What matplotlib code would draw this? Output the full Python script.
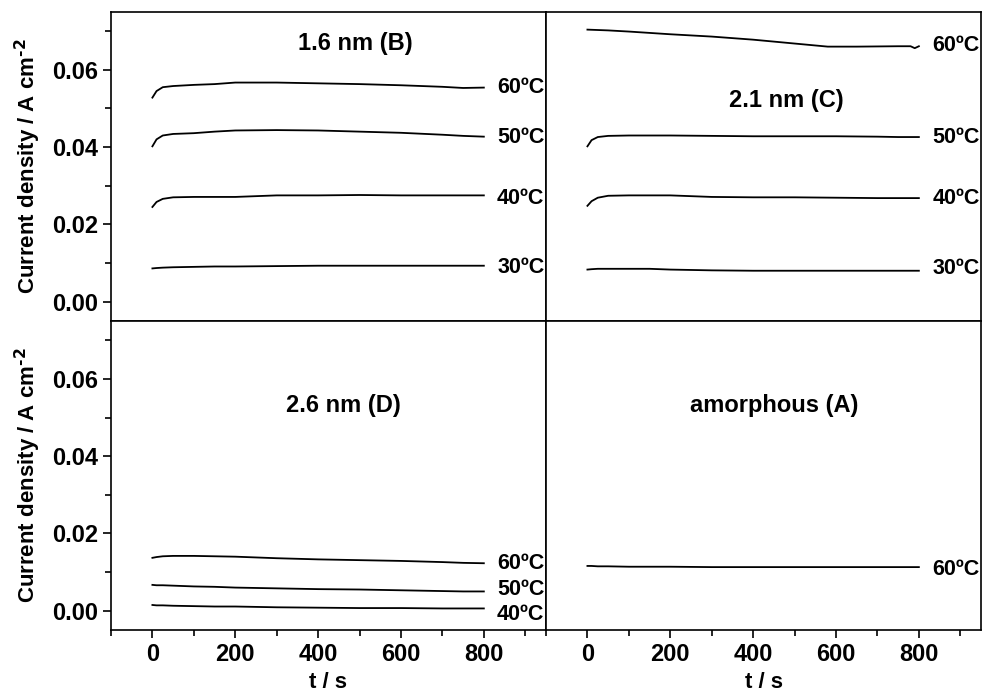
import matplotlib.pyplot as plt

plt.rcParams['font.family'] = ['Liberation Sans', 'DejaVu Sans']
plt.rcParams['font.weight'] = 'bold'
plt.rcParams['mathtext.default'] = 'bf'

# time axis points (s)
t_b = [0, 10, 25, 50, 100, 150, 200, 300, 400, 500, 600, 700, 750, 800]

# 1.6 nm (B)
b60 = [0.0528, 0.0545, 0.0555, 0.0558, 0.0561, 0.0563, 0.0567, 0.0567, 0.0565, 0.0563, 0.0560, 0.0556, 0.0553, 0.0554]
b50 = [0.0402, 0.0420, 0.0430, 0.0434, 0.0436, 0.0440, 0.0443, 0.0444, 0.0443, 0.0440, 0.0437, 0.0432, 0.0429, 0.0427]
b40 = [0.0245, 0.0258, 0.0266, 0.0270, 0.0271, 0.0271, 0.0271, 0.0275, 0.0275, 0.0276, 0.0275, 0.0275, 0.0275, 0.0275]
b30 = [0.0086, 0.0087, 0.0088, 0.0089, 0.0090, 0.0091, 0.0091, 0.0092, 0.0093, 0.0093, 0.0093, 0.0093, 0.0093, 0.0093]

# 2.1 nm (C)
t_c60 = [0, 50, 100, 200, 300, 400, 500, 580, 650, 750, 780, 790, 800]
c60 = [0.0704, 0.0702, 0.0699, 0.0692, 0.0686, 0.0678, 0.0668, 0.0660, 0.0660, 0.0661, 0.0661, 0.0656, 0.0661]
c50 = [0.0402, 0.0418, 0.0426, 0.0429, 0.0430, 0.0430, 0.0430, 0.0429, 0.0428, 0.0428, 0.0428, 0.0427, 0.0426, 0.0426]
c40 = [0.0248, 0.0260, 0.0269, 0.0274, 0.0275, 0.0275, 0.0275, 0.0271, 0.0270, 0.0270, 0.0269, 0.0268, 0.0268, 0.0268]
c30 = [0.0083, 0.0084, 0.0085, 0.0085, 0.0085, 0.0085, 0.0083, 0.0081, 0.0080, 0.0080, 0.0080, 0.0080, 0.0080, 0.0080]

# 2.6 nm (D)
d60 = [0.0137, 0.0139, 0.0141, 0.0142, 0.0142, 0.0141, 0.0140, 0.0136, 0.0133, 0.0131, 0.0129, 0.0126, 0.0124, 0.0123]
d50 = [0.0067, 0.0066, 0.0066, 0.0065, 0.0063, 0.0062, 0.0060, 0.0058, 0.0056, 0.0055, 0.0053, 0.0051, 0.0050, 0.0050]
d40 = [0.0015, 0.0014, 0.0014, 0.0013, 0.0012, 0.0011, 0.0011, 0.0009, 0.0008, 0.0007, 0.0007, 0.0006, 0.0006, 0.0006]

# amorphous (A)
a60 = [0.0116, 0.0116, 0.0115, 0.0115, 0.0114, 0.0114, 0.0114, 0.0113, 0.0113, 0.0113, 0.0113, 0.0113, 0.0113, 0.0113]

panels = [
    ("1.6 nm (B)", (490, 0.0668),
     [(t_b, b60, "60ºC", 0.0553), (t_b, b50, "50ºC", 0.0426),
      (t_b, b40, "40ºC", 0.0268), (t_b, b30, "30ºC", 0.0088)]),
    ("2.1 nm (C)", (480, 0.0520),
     [(t_c60, c60, "60ºC", 0.0662), (t_b, c50, "50ºC", 0.0426),
      (t_b, c40, "40ºC", 0.0268), (t_b, c30, "30ºC", 0.0086)]),
    ("2.6 nm (D)", (460, 0.0530),
     [(t_b, d60, "60ºC", 0.0123), (t_b, d50, "50ºC", 0.0055),
      (t_b, d40, "40ºC", -0.0010)]),
    ("amorphous (A)", (450, 0.0530),
     [(t_b, a60, "60ºC", 0.0108)]),
]

fig, axes = plt.subplots(2, 2, figsize=(9.82, 6.97), dpi=100, sharex=True, sharey=True)
fig.subplots_adjust(left=0.113, right=0.999, top=0.983, bottom=0.096, wspace=0, hspace=0)

for ax, (title, tpos, curves) in zip(axes.flat, panels):
    for t, y, lab, ly in curves:
        ax.plot(t, y, color='black', lw=1.3)
        ax.text(832, ly, lab, fontsize=15.5, fontweight='bold', ha='left', va='center')
    ax.text(tpos[0], tpos[1], title, fontsize=17, fontweight='bold', ha='center', va='center')
    for s in ax.spines.values():
        s.set_linewidth(1.2)

ax0 = axes[0, 0]
ax0.set_xlim(-100, 950)
ax0.set_ylim(-0.005, 0.075)
ax0.set_xticks([0, 200, 400, 600, 800])
ax0.set_xticks([-100, 100, 300, 500, 700, 900], minor=True)
ax0.set_yticks([0.00, 0.02, 0.04, 0.06])
ax0.set_yticks([0.01, 0.03, 0.05, 0.07], minor=True)
ax0.yaxis.set_major_formatter(plt.FormatStrFormatter('%.2f'))

for i in range(2):
    for j in range(2):
        ax = axes[i, j]
        ax.tick_params(which='both', direction='out', top=False, right=False,
                       left=(j == 0), bottom=(i == 1),
                       labelleft=(j == 0), labelbottom=(i == 1),
                       labelsize=17, width=1.2)
        ax.tick_params(which='major', length=6)
        ax.tick_params(which='minor', length=4)
        for lbl in ax.get_xticklabels() + ax.get_yticklabels():
            lbl.set_fontweight('bold')

for i in range(2):
    axes[i, 0].set_ylabel("Current density / A cm$^{\\text{-2}}$", fontsize=16, fontweight='bold', labelpad=6)
    axes[1, i].set_xlabel("t / s", fontsize=16, fontweight='bold', labelpad=4)

fig.savefig("out.png", dpi=100)
